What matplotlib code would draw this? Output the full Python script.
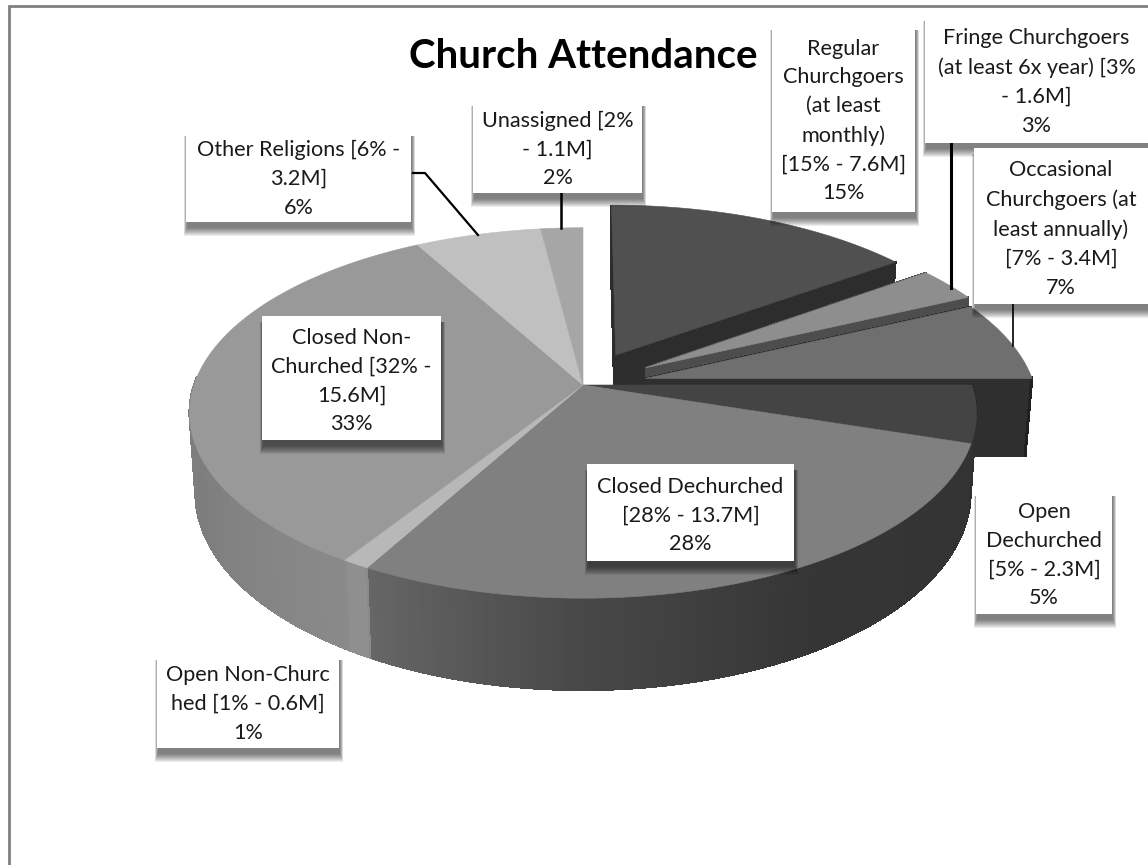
import numpy as np
import matplotlib
matplotlib.use("Agg")
import matplotlib.pyplot as plt
from matplotlib.patches import Polygon, Rectangle

plt.rcParams["font.family"] = ["Lato", "DejaVu Sans"]

# slices, clockwise from twelve o'clock
names = ["Regular\nChurchgoers\n(at least\nmonthly)\n[15% - 7.6M]",
         "Fringe Churchgoers\n(at least 6x year) [3%\n- 1.6M]",
         "Occasional\nChurchgoers (at\nleast annually)\n[7% - 3.4M]",
         "Open\nDechurched\n[5% - 2.3M]",
         "Closed Dechurched\n[28% - 13.7M]",
         "Open Non-Churc\nhed [1% - 0.6M]",
         "Closed Non-\nChurched [32% -\n15.6M]",
         "Other Religions [6% -\n3.2M]",
         "Unassigned [2%\n- 1.1M]"]
values = [15, 3, 7, 5, 28, 1, 33, 6, 2]
explode = [0.19, 0.19, 0.165, 0, 0, 0, 0, 0, 0]

top_grays = ["#505050", "#8e8e8e", "#6f6f6f", "#444444", "#808080",
             "#b8b8b8", "#999999", "#c0c0c0", "#a6a6a6"]
cut_grays = ["#2d2d2d", "#4d4d4d", "#2f2f2f"]

# label boxes: left, top, right, bottom in pixels
boxes = [(772, 24, 915, 212), (925, 15, 1148, 143), (974, 148, 1148, 304),
         (976, 490, 1112, 614), (587, 464, 794, 561), (157, 654, 339, 748),
         (262, 316, 441, 440), (186, 130, 411, 222), (473, 100, 642, 193)]

# leader lines
leaders = [([951, 951], [143, 288], 2.2),
           ([1013, 1013], [304, 346], 1.2),
           ([413, 425, 478], [173, 173, 235], 1.6),
           ([561, 561], [193, 228], 1.8)]

# shading of the outer wall of the main body, angle against gray level
wall_angles = [90, 108, 150, 180, 208.7, 209, 212, 212.4, 250, 290]
wall_levels = [0.13, 0.2, 0.21, 0.28, 0.4, 0.56, 0.56, 0.54, 0.49, 0.5]

CX, CY = 583, 385
RX, RY, PERSP = 389, 181, 0.151
DEPTH = 78
W, H = 1148, 865


def project(u, v):
    f = 1 + PERSP * v
    return CX + RX * u / f, CY - RY * v / f


def lower(x, y, v):
    # same point on the underside of the disc
    return CX + (x - CX) * 0.985, y + DEPTH / (1 + PERSP * v)


def quad(ax, a, b, v_a, v_b, color, z):
    a2 = lower(a[0], a[1], v_a)
    b2 = lower(b[0], b[1], v_b)
    ax.add_patch(Polygon([a, b, b2, a2], closed=True, fc=color, ec=color, lw=0.8,
                         antialiased=False, zorder=z))


fig = plt.figure(figsize=(W / 100, H / 100), dpi=100)
ax = fig.add_axes([0, 0, 1, 1])
ax.set_xlim(0, W)
ax.set_ylim(H, 0)
ax.axis("off")

# chart frame
ax.plot([9, 9, W], [H, 6, 6], color="#808080", lw=2, solid_joinstyle="miter", zorder=1)

edges = np.cumsum([0] + values) * 3.6
for i, val in enumerate(values):
    t0, t1 = np.radians(edges[i]), np.radians(edges[i + 1])
    mid = (t0 + t1) / 2
    ou, ov = explode[i] * np.sin(mid), explode[i] * np.cos(mid)
    ts = np.linspace(t0, t1, max(int(val * 6), 12))
    us, vs = ou + np.sin(ts), ov + np.cos(ts)
    rim = [project(u, v) for u, v in zip(us, vs)]
    apex = project(ou, ov)
    z = 2 + 3 * i if explode[i] else 20
    if explode[i]:
        quad(ax, apex, rim[0], ov, vs[0], cut_grays[i], z)
        quad(ax, apex, rim[-1], ov, vs[-1], cut_grays[i], z)
    for k in range(len(ts) - 1):
        if vs[k] < 0.05 and vs[k + 1] < 0.05:
            deg = np.degrees((ts[k] + ts[k + 1]) / 2)
            level = np.interp(deg, wall_angles, wall_levels)
            quad(ax, rim[k], rim[k + 1], vs[k], vs[k + 1], str(level), z)
    z_top = z + 1 if explode[i] else 21
    ax.add_patch(Polygon([apex] + rim, closed=True, fc=top_grays[i], ec=top_grays[i],
                         lw=0.4, zorder=z_top))

for xs, ys, lw in leaders:
    ax.plot(xs, ys, color="black", lw=lw, zorder=30)

# data labels with a soft drop shadow under the box
for i, (l, t, r, b) in enumerate(boxes):
    z = 40 + i
    for grow in range(8, -1, -1):
        side = grow * 0.4
        ax.add_patch(Rectangle((l - side + 1, t + 6), r - l + 2 * side, b - t + grow,
                               fc="black", ec="none", alpha=0.07, zorder=z))
    ax.add_patch(Rectangle((l, t), r - l, b - t, fc="white", ec="none", zorder=z))
    ax.text((l + r) / 2, (t + b) / 2 + 3, f"{names[i]}\n{values[i]}%", ha="center", va="center",
            ma="center", fontsize=15.6, linespacing=1.55, color="#1a1a1a", zorder=z)

ax.text(583, 57, "Church Attendance", ha="center", va="center", fontsize=29,
        fontweight="bold", color="black", zorder=60)

fig.savefig("out.png", dpi=100, facecolor="white")
